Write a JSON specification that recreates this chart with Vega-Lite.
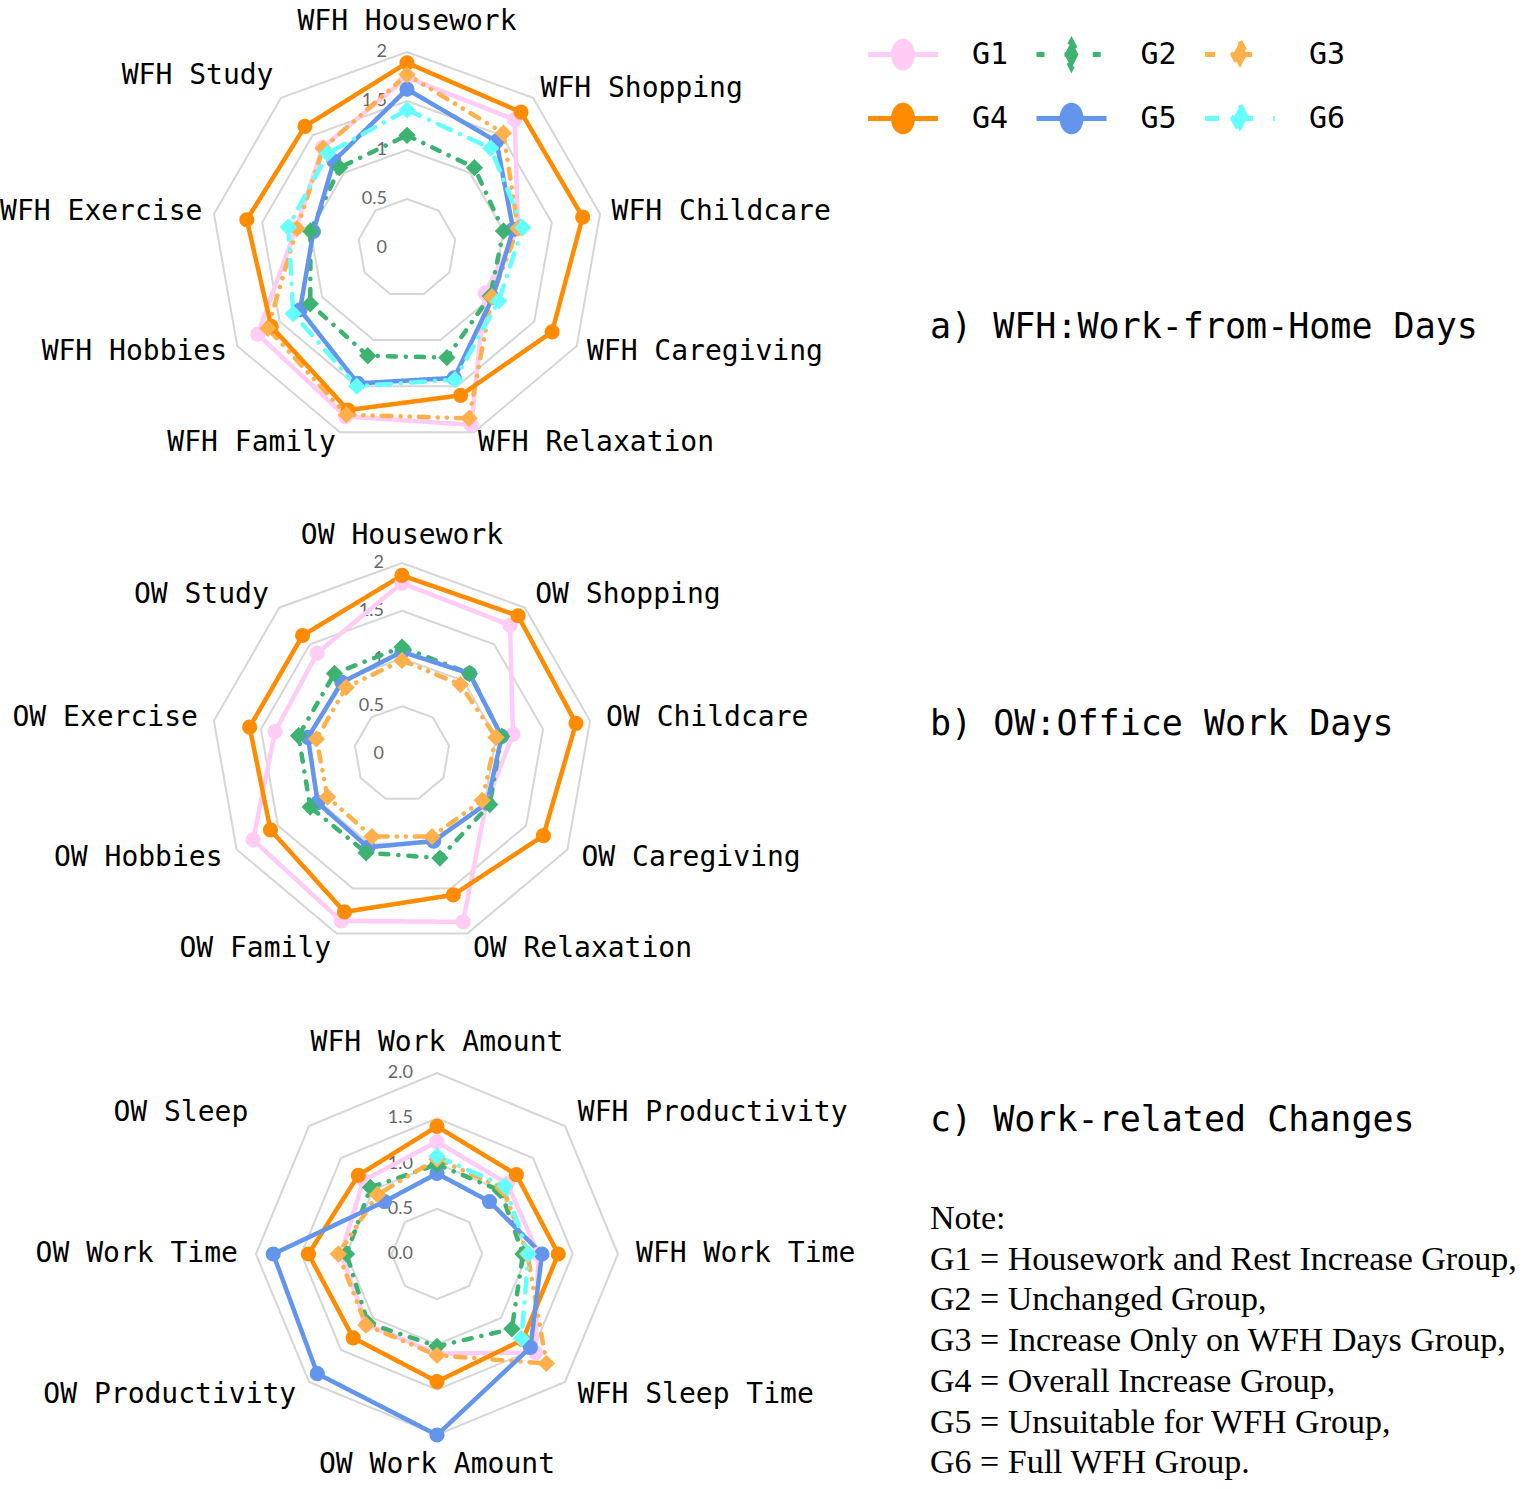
{
  "$schema": "https://vega.github.io/schema/vega-lite/v6.json",
  "background": "white",
  "padding": 0,
  "spacing": 0,
  "bounds": "flush",
  "config": {"view": {"stroke": null}},
  "datasets": {
    "a": [
      {"g":"G1","axis":"WFH Housework","v":1.74},{"g":"G1","axis":"WFH Shopping","v":1.71},{"g":"G1","axis":"WFH Childcare","v":1.15},{"g":"G1","axis":"WFH Caregiving","v":0.92},{"g":"G1","axis":"WFH Relaxation","v":1.92},{"g":"G1","axis":"WFH Family","v":1.83},{"g":"G1","axis":"WFH Hobbies","v":1.76},{"g":"G1","axis":"WFH Exercise","v":1.15},{"g":"G1","axis":"WFH Study","v":1.34},
      {"g":"G2","axis":"WFH Housework","v":1.15},{"g":"G2","axis":"WFH Shopping","v":1.07},{"g":"G2","axis":"WFH Childcare","v":1.0},{"g":"G2","axis":"WFH Caregiving","v":0.98},{"g":"G2","axis":"WFH Relaxation","v":1.19},{"g":"G2","axis":"WFH Family","v":1.17},{"g":"G2","axis":"WFH Hobbies","v":1.14},{"g":"G2","axis":"WFH Exercise","v":1.0},{"g":"G2","axis":"WFH Study","v":1.07},
      {"g":"G3","axis":"WFH Housework","v":1.77},{"g":"G3","axis":"WFH Shopping","v":1.53},{"g":"G3","axis":"WFH Childcare","v":1.15},{"g":"G3","axis":"WFH Caregiving","v":1.0},{"g":"G3","axis":"WFH Relaxation","v":1.85},{"g":"G3","axis":"WFH Family","v":1.81},{"g":"G3","axis":"WFH Hobbies","v":1.64},{"g":"G3","axis":"WFH Exercise","v":1.14},{"g":"G3","axis":"WFH Study","v":1.33},
      {"g":"G4","axis":"WFH Housework","v":1.89},{"g":"G4","axis":"WFH Shopping","v":1.81},{"g":"G4","axis":"WFH Childcare","v":1.82},{"g":"G4","axis":"WFH Caregiving","v":1.71},{"g":"G4","axis":"WFH Relaxation","v":1.6},{"g":"G4","axis":"WFH Family","v":1.76},{"g":"G4","axis":"WFH Hobbies","v":1.6},{"g":"G4","axis":"WFH Exercise","v":1.66},{"g":"G4","axis":"WFH Study","v":1.62},
      {"g":"G5","axis":"WFH Housework","v":1.62},{"g":"G5","axis":"WFH Shopping","v":1.42},{"g":"G5","axis":"WFH Childcare","v":1.1},{"g":"G5","axis":"WFH Caregiving","v":1.01},{"g":"G5","axis":"WFH Relaxation","v":1.41},{"g":"G5","axis":"WFH Family","v":1.47},{"g":"G5","axis":"WFH Hobbies","v":1.26},{"g":"G5","axis":"WFH Exercise","v":0.97},{"g":"G5","axis":"WFH Study","v":1.16},
      {"g":"G6","axis":"WFH Housework","v":1.41},{"g":"G6","axis":"WFH Shopping","v":1.33},{"g":"G6","axis":"WFH Childcare","v":1.2},{"g":"G6","axis":"WFH Caregiving","v":1.08},{"g":"G6","axis":"WFH Relaxation","v":1.43},{"g":"G6","axis":"WFH Family","v":1.5},{"g":"G6","axis":"WFH Hobbies","v":1.34},{"g":"G6","axis":"WFH Exercise","v":1.23},{"g":"G6","axis":"WFH Study","v":1.26}
    ],
    "b": [
      {"g":"G1","axis":"OW Housework","v":1.79},{"g":"G1","axis":"OW Shopping","v":1.76},{"g":"G1","axis":"OW Childcare","v":1.18},{"g":"G1","axis":"OW Caregiving","v":1.02},{"g":"G1","axis":"OW Relaxation","v":1.87},{"g":"G1","axis":"OW Family","v":1.86},{"g":"G1","axis":"OW Hobbies","v":1.8},{"g":"G1","axis":"OW Exercise","v":1.35},{"g":"G1","axis":"OW Study","v":1.38},
      {"g":"G2","axis":"OW Housework","v":1.12},{"g":"G2","axis":"OW Shopping","v":1.1},{"g":"G2","axis":"OW Childcare","v":1.06},{"g":"G2","axis":"OW Caregiving","v":1.06},{"g":"G2","axis":"OW Relaxation","v":1.16},{"g":"G2","axis":"OW Family","v":1.1},{"g":"G2","axis":"OW Hobbies","v":1.11},{"g":"G2","axis":"OW Exercise","v":1.1},{"g":"G2","axis":"OW Study","v":1.1},
      {"g":"G3","axis":"OW Housework","v":0.98},{"g":"G3","axis":"OW Shopping","v":0.95},{"g":"G3","axis":"OW Childcare","v":1.0},{"g":"G3","axis":"OW Caregiving","v":0.97},{"g":"G3","axis":"OW Relaxation","v":0.92},{"g":"G3","axis":"OW Family","v":0.92},{"g":"G3","axis":"OW Hobbies","v":0.9},{"g":"G3","axis":"OW Exercise","v":0.91},{"g":"G3","axis":"OW Study","v":0.91},
      {"g":"G4","axis":"OW Housework","v":1.87},{"g":"G4","axis":"OW Shopping","v":1.89},{"g":"G4","axis":"OW Childcare","v":1.85},{"g":"G4","axis":"OW Caregiving","v":1.71},{"g":"G4","axis":"OW Relaxation","v":1.57},{"g":"G4","axis":"OW Family","v":1.76},{"g":"G4","axis":"OW Hobbies","v":1.59},{"g":"G4","axis":"OW Exercise","v":1.62},{"g":"G4","axis":"OW Study","v":1.62},
      {"g":"G5","axis":"OW Housework","v":1.07},{"g":"G5","axis":"OW Shopping","v":1.1},{"g":"G5","axis":"OW Childcare","v":1.06},{"g":"G5","axis":"OW Caregiving","v":1.03},{"g":"G5","axis":"OW Relaxation","v":0.97},{"g":"G5","axis":"OW Family","v":1.04},{"g":"G5","axis":"OW Hobbies","v":1.02},{"g":"G5","axis":"OW Exercise","v":1.0},{"g":"G5","axis":"OW Study","v":0.98}
    ],
    "c": [
      {"g":"G1","axis":"WFH Work Amount","v":1.24},{"g":"G1","axis":"WFH Productivity","v":1.1},{"g":"G1","axis":"WFH Work Time","v":1.12},{"g":"G1","axis":"WFH Sleep Time","v":1.54},{"g":"G1","axis":"OW Work Amount","v":1.1},{"g":"G1","axis":"OW Productivity","v":1.1},{"g":"G1","axis":"OW Work Time","v":1.06},{"g":"G1","axis":"OW Sleep","v":1.15},
      {"g":"G2","axis":"WFH Work Amount","v":0.99},{"g":"G2","axis":"WFH Productivity","v":0.99},{"g":"G2","axis":"WFH Work Time","v":0.95},{"g":"G2","axis":"WFH Sleep Time","v":1.17},{"g":"G2","axis":"OW Work Amount","v":1.02},{"g":"G2","axis":"OW Productivity","v":1.08},{"g":"G2","axis":"OW Work Time","v":1.0},{"g":"G2","axis":"OW Sleep","v":1.04},
      {"g":"G3","axis":"WFH Work Amount","v":1.05},{"g":"G3","axis":"WFH Productivity","v":1.03},{"g":"G3","axis":"WFH Work Time","v":1.0},{"g":"G3","axis":"WFH Sleep Time","v":1.71},{"g":"G3","axis":"OW Work Amount","v":1.12},{"g":"G3","axis":"OW Productivity","v":1.11},{"g":"G3","axis":"OW Work Time","v":1.09},{"g":"G3","axis":"OW Sleep","v":0.93},
      {"g":"G4","axis":"WFH Work Amount","v":1.41},{"g":"G4","axis":"WFH Productivity","v":1.24},{"g":"G4","axis":"WFH Work Time","v":1.34},{"g":"G4","axis":"WFH Sleep Time","v":1.34},{"g":"G4","axis":"OW Work Amount","v":1.41},{"g":"G4","axis":"OW Productivity","v":1.31},{"g":"G4","axis":"OW Work Time","v":1.42},{"g":"G4","axis":"OW Sleep","v":1.23},
      {"g":"G5","axis":"WFH Work Amount","v":0.89},{"g":"G5","axis":"WFH Productivity","v":0.82},{"g":"G5","axis":"WFH Work Time","v":1.16},{"g":"G5","axis":"WFH Sleep Time","v":1.46},{"g":"G5","axis":"OW Work Amount","v":2.0},{"g":"G5","axis":"OW Productivity","v":1.87},{"g":"G5","axis":"OW Work Time","v":1.81},{"g":"G5","axis":"OW Sleep","v":0.82},
      {"g":"G6","axis":"WFH Work Amount","v":1.08},{"g":"G6","axis":"WFH Productivity","v":1.06},{"g":"G6","axis":"WFH Work Time","v":1.01},{"g":"G6","axis":"WFH Sleep Time","v":1.32}
    ]
  },
  "vconcat": [
    {
      "width": 1525,
      "height": 480,
      "title": {"text": "a) WFH:Work-from-Home Days", "orient": "bottom", "anchor": "start", "frame": "group", "offset": 0, "dx": 930, "dy": -170, "font": "DejaVu Sans Mono", "fontSize": 35, "fontWeight": "normal", "color": "black"},
      "resolve": {"legend": {"color": "independent", "stroke": "independent", "shape": "independent", "strokeDash": "independent"}},
      "encoding": {
        "x": {"field": "x", "type": "quantitative", "scale": {"domain": [-4.1531, 11.4082], "zero": false, "nice": false}, "axis": null},
        "y": {"field": "y", "type": "quantitative", "scale": {"domain": [-2.3673, 2.5306], "zero": false, "nice": false}, "axis": null}
      },
      "layer": [
        {
          "data": {"values": [{"lvl":0.5,"k":[0,1,2,3,4,5,6,7,8]},{"lvl":1,"k":[0,1,2,3,4,5,6,7,8]},{"lvl":1.5,"k":[0,1,2,3,4,5,6,7,8]},{"lvl":2,"k":[0,1,2,3,4,5,6,7,8]}]},
          "transform": [{"flatten": ["k"]},{"calculate": "datum.lvl * sin(datum.k * 2 * PI / 9)", "as": "x"},{"calculate": "datum.lvl * cos(datum.k * 2 * PI / 9)", "as": "y"}],
          "mark": {"type": "line", "interpolate": "linear-closed", "color": "#d6d6d6", "strokeWidth": 2},
          "encoding": {"detail": {"field": "lvl"}, "order": {"field": "k", "type": "quantitative"}}
        },
        {
          "data": {"values": [{"lvl":0},{"lvl":0.5},{"lvl":1},{"lvl":1.5},{"lvl":2}]},
          "transform": [{"calculate": "0", "as": "x"},{"calculate": "datum.lvl", "as": "y"}],
          "mark": {"type": "text", "align": "right", "baseline": "middle", "dx": -20, "font": "Lato", "fontSize": 18, "color": "#666666"},
          "encoding": {"text": {"field": "lvl", "type": "quantitative"}}
        },
        {
          "data": {"values": [{"axis":"WFH Housework"},{"axis":"WFH Shopping"},{"axis":"WFH Childcare"},{"axis":"WFH Caregiving"},{"axis":"WFH Relaxation"},{"axis":"WFH Family"},{"axis":"WFH Hobbies"},{"axis":"WFH Exercise"},{"axis":"WFH Study"}]},
          "transform": [{"window": [{"op": "row_number", "as": "n"}]},{"calculate": "(datum.n - 1) * 2 * PI / 9", "as": "t"},{"calculate": "sin(datum.t)", "as": "s"},{"calculate": "abs(sin(datum.t)) < 0.2 ? 2.31 : 2.12", "as": "r"},{"calculate": "datum.r * sin(datum.t)", "as": "x"},{"calculate": "datum.r * cos(datum.t) + (datum.n == 9 ? 0.13 : 0)", "as": "y"}],
          "mark": {"type": "text", "align": {"expr": "datum.s > 0.2 ? 'left' : (datum.s < -0.2 ? 'right' : 'center')"}, "baseline": "middle", "font": "DejaVu Sans Mono", "fontSize": 28, "color": "black"},
          "encoding": {"text": {"field": "axis"}}
        },
        {
          "data": {"name": "a"},
          "transform": [{"calculate": "indexof(['WFH Housework','WFH Shopping','WFH Childcare','WFH Caregiving','WFH Relaxation','WFH Family','WFH Hobbies','WFH Exercise','WFH Study'], datum.axis)", "as": "i"},{"calculate": "datum.v * sin(datum.i * 2 * PI / 9)", "as": "x"},{"calculate": "datum.v * cos(datum.i * 2 * PI / 9)", "as": "y"}],
          "mark": {"type": "line", "interpolate": "linear-closed", "strokeWidth": 4.5, "strokeCap": "round", "strokeJoin": "round"},
          "encoding": {
            "color": {"field": "g", "type": "nominal", "scale": {"domain": ["G1","G2","G3","G4","G5","G6"], "range": ["#FFCCF6","#3CB371","#FFB04A","#FF8C00","#6495ED","#66FFFF"]}, "legend": null},
            "strokeDash": {"field": "g", "type": "nominal", "scale": {"domain": ["G1","G2","G3","G4","G5","G6"], "range": [[1,0],[8,10,0.1,10],[10,9,0.1,9,0.1,9],[1,0],[1,0],[14,10,0.1,10]]}, "legend": null},
            "order": {"field": "i", "type": "quantitative"}
          }
        },
        {
          "data": {"name": "a"},
          "transform": [{"filter": "indexof(['G1','G4','G5'], datum.g) >= 0"},{"calculate": "indexof(['WFH Housework','WFH Shopping','WFH Childcare','WFH Caregiving','WFH Relaxation','WFH Family','WFH Hobbies','WFH Exercise','WFH Study'], datum.axis)", "as": "i"},{"calculate": "datum.v * sin(datum.i * 2 * PI / 9)", "as": "x"},{"calculate": "datum.v * cos(datum.i * 2 * PI / 9)", "as": "y"}],
          "mark": {"type": "point", "shape": "circle", "filled": true, "size": 230, "opacity": 1},
          "encoding": {"color": {"field": "g", "type": "nominal", "legend": null}}
        },
        {
          "data": {"name": "a"},
          "transform": [{"filter": "indexof(['G2','G3','G6'], datum.g) >= 0"},{"calculate": "indexof(['WFH Housework','WFH Shopping','WFH Childcare','WFH Caregiving','WFH Relaxation','WFH Family','WFH Hobbies','WFH Exercise','WFH Study'], datum.axis)", "as": "i"},{"calculate": "datum.v * sin(datum.i * 2 * PI / 9)", "as": "x"},{"calculate": "datum.v * cos(datum.i * 2 * PI / 9)", "as": "y"}],
          "mark": {"type": "point", "shape": "diamond", "filled": true, "size": 300, "opacity": 1},
          "encoding": {"color": {"field": "g", "type": "nominal", "legend": null}}
        },
        {
          "data": {"name": "a"},
          "transform": [{"calculate": "indexof(['WFH Housework','WFH Shopping','WFH Childcare','WFH Caregiving','WFH Relaxation','WFH Family','WFH Hobbies','WFH Exercise','WFH Study'], datum.axis)", "as": "i"},{"calculate": "datum.v * sin(datum.i * 2 * PI / 9)", "as": "x"},{"calculate": "datum.v * cos(datum.i * 2 * PI / 9)", "as": "y"}],
          "mark": {"type": "point", "filled": true, "opacity": 0, "strokeWidth": 5},
          "encoding": {
            "color": {"field": "g", "type": "nominal", "legend": {"orient": "none", "legendX": 865.5, "legendY": 17, "columns": 3, "direction": "horizontal", "title": null, "symbolSize": 4900, "symbolStrokeWidth": 5, "symbolOpacity": 1, "labelFont": "DejaVu Sans Mono", "labelFontSize": 30, "labelColor": "black", "labelOffset": 31.5, "columnPadding": 17.5, "rowPadding": 3, "padding": 0}},
            "stroke": {"field": "g", "type": "nominal", "scale": {"domain": ["G1","G2","G3","G4","G5","G6"], "range": ["#FFCCF6","#3CB371","#FFB04A","#FF8C00","#6495ED","#66FFFF"]}, "legend": {"orient": "none", "legendX": 865.5, "legendY": 17, "columns": 3, "direction": "horizontal", "title": null, "symbolSize": 4900, "symbolStrokeWidth": 5, "symbolOpacity": 1, "labelFont": "DejaVu Sans Mono", "labelFontSize": 30, "labelColor": "black", "labelOffset": 31.5, "columnPadding": 17.5, "rowPadding": 3, "padding": 0}},
            "shape": {"field": "g", "type": "nominal", "scale": {"domain": ["G1","G2","G3","G4","G5","G6"], "range": ["M-1,0L1,0M-0.27,0A0.27,0.38 0 1,0 0.27,0A0.27,0.38 0 1,0 -0.27,0Z","M-1,0L1,0M0,-0.38L0.2,0L0,0.38L-0.2,0Z","M-1,0L1,0M0,-0.38L0.2,0L0,0.38L-0.2,0Z","M-1,0L1,0M-0.27,0A0.27,0.38 0 1,0 0.27,0A0.27,0.38 0 1,0 -0.27,0Z","M-1,0L1,0M-0.27,0A0.27,0.38 0 1,0 0.27,0A0.27,0.38 0 1,0 -0.27,0Z","M-1,0L1,0M0,-0.38L0.2,0L0,0.38L-0.2,0Z"]}, "legend": {"orient": "none", "legendX": 865.5, "legendY": 17, "columns": 3, "direction": "horizontal", "title": null, "symbolSize": 4900, "symbolStrokeWidth": 5, "symbolOpacity": 1, "labelFont": "DejaVu Sans Mono", "labelFontSize": 30, "labelColor": "black", "labelOffset": 31.5, "columnPadding": 17.5, "rowPadding": 3, "padding": 0}},
            "strokeDash": {"field": "g", "type": "nominal", "legend": {"orient": "none", "legendX": 865.5, "legendY": 17, "columns": 3, "direction": "horizontal", "title": null, "symbolSize": 4900, "symbolStrokeWidth": 5, "symbolOpacity": 1, "labelFont": "DejaVu Sans Mono", "labelFontSize": 30, "labelColor": "black", "labelOffset": 31.5, "columnPadding": 17.5, "rowPadding": 3, "padding": 0}}
          }
        }
      ]
    },
    {
      "width": 1525,
      "height": 505,
      "title": {"text": "b) OW:Office Work Days", "orient": "bottom", "anchor": "start", "frame": "group", "offset": 0, "dx": 930, "dy": -278, "font": "DejaVu Sans Mono", "fontSize": 35, "fontWeight": "normal", "color": "black"},
      "encoding": {
        "x": {"field": "x", "type": "quantitative", "scale": {"domain": [-4.2094, 11.7592], "zero": false, "nice": false}, "axis": null},
        "y": {"field": "y", "type": "quantitative", "scale": {"domain": [-2.4188, 2.8691], "zero": false, "nice": false}, "axis": null}
      },
      "layer": [
        {
          "data": {"values": [{"lvl":0.5,"k":[0,1,2,3,4,5,6,7,8]},{"lvl":1,"k":[0,1,2,3,4,5,6,7,8]},{"lvl":1.5,"k":[0,1,2,3,4,5,6,7,8]},{"lvl":2,"k":[0,1,2,3,4,5,6,7,8]}]},
          "transform": [{"flatten": ["k"]},{"calculate": "datum.lvl * sin(datum.k * 2 * PI / 9)", "as": "x"},{"calculate": "datum.lvl * cos(datum.k * 2 * PI / 9)", "as": "y"}],
          "mark": {"type": "line", "interpolate": "linear-closed", "color": "#d6d6d6", "strokeWidth": 2},
          "encoding": {"detail": {"field": "lvl"}, "order": {"field": "k", "type": "quantitative"}}
        },
        {
          "data": {"values": [{"lvl":0},{"lvl":0.5},{"lvl":1},{"lvl":1.5},{"lvl":2}]},
          "transform": [{"calculate": "0", "as": "x"},{"calculate": "datum.lvl", "as": "y"}],
          "mark": {"type": "text", "align": "right", "baseline": "middle", "dx": -18, "font": "Lato", "fontSize": 18, "color": "#666666"},
          "encoding": {"text": {"field": "lvl", "type": "quantitative"}}
        },
        {
          "data": {"values": [{"axis":"OW Housework"},{"axis":"OW Shopping"},{"axis":"OW Childcare"},{"axis":"OW Caregiving"},{"axis":"OW Relaxation"},{"axis":"OW Family"},{"axis":"OW Hobbies"},{"axis":"OW Exercise"},{"axis":"OW Study"}]},
          "transform": [{"window": [{"op": "row_number", "as": "n"}]},{"calculate": "(datum.n - 1) * 2 * PI / 9", "as": "t"},{"calculate": "sin(datum.t)", "as": "s"},{"calculate": "abs(sin(datum.t)) < 0.2 ? 2.28 : 2.17", "as": "r"},{"calculate": "datum.r * sin(datum.t)", "as": "x"},{"calculate": "datum.r * cos(datum.t)", "as": "y"}],
          "mark": {"type": "text", "align": {"expr": "datum.s > 0.2 ? 'left' : (datum.s < -0.2 ? 'right' : 'center')"}, "baseline": "middle", "font": "DejaVu Sans Mono", "fontSize": 28, "color": "black"},
          "encoding": {"text": {"field": "axis"}}
        },
        {
          "data": {"name": "b"},
          "transform": [{"calculate": "indexof(['OW Housework','OW Shopping','OW Childcare','OW Caregiving','OW Relaxation','OW Family','OW Hobbies','OW Exercise','OW Study'], datum.axis)", "as": "i"},{"calculate": "datum.v * sin(datum.i * 2 * PI / 9)", "as": "x"},{"calculate": "datum.v * cos(datum.i * 2 * PI / 9)", "as": "y"}],
          "mark": {"type": "line", "interpolate": "linear-closed", "strokeWidth": 4.5, "strokeCap": "round", "strokeJoin": "round"},
          "encoding": {
            "color": {"field": "g", "type": "nominal", "legend": null},
            "strokeDash": {"field": "g", "type": "nominal", "legend": null},
            "order": {"field": "i", "type": "quantitative"}
          }
        },
        {
          "data": {"name": "b"},
          "transform": [{"filter": "indexof(['G1','G4','G5'], datum.g) >= 0"},{"calculate": "indexof(['OW Housework','OW Shopping','OW Childcare','OW Caregiving','OW Relaxation','OW Family','OW Hobbies','OW Exercise','OW Study'], datum.axis)", "as": "i"},{"calculate": "datum.v * sin(datum.i * 2 * PI / 9)", "as": "x"},{"calculate": "datum.v * cos(datum.i * 2 * PI / 9)", "as": "y"}],
          "mark": {"type": "point", "shape": "circle", "filled": true, "size": 230, "opacity": 1},
          "encoding": {"color": {"field": "g", "type": "nominal", "legend": null}}
        },
        {
          "data": {"name": "b"},
          "transform": [{"filter": "indexof(['G2','G3','G6'], datum.g) >= 0"},{"calculate": "indexof(['OW Housework','OW Shopping','OW Childcare','OW Caregiving','OW Relaxation','OW Family','OW Hobbies','OW Exercise','OW Study'], datum.axis)", "as": "i"},{"calculate": "datum.v * sin(datum.i * 2 * PI / 9)", "as": "x"},{"calculate": "datum.v * cos(datum.i * 2 * PI / 9)", "as": "y"}],
          "mark": {"type": "point", "shape": "diamond", "filled": true, "size": 300, "opacity": 1},
          "encoding": {"color": {"field": "g", "type": "nominal", "legend": null}}
        }
      ]
    },
    {
      "width": 1525,
      "height": 504,
      "title": {"text": "c) Work-related Changes", "subtitle": ["Note:", "G1 = Housework and Rest Increase Group,", "G2 = Unchanged Group,", "G3 = Increase Only on WFH Days Group,", "G4 = Overall Increase Group,", "G5 = Unsuitable for WFH Group,", "G6 = Full WFH Group."], "orient": "bottom", "anchor": "start", "frame": "group", "offset": 0, "dx": 930, "dy": -386, "font": "DejaVu Sans Mono", "fontSize": 35, "fontWeight": "normal", "color": "black", "subtitleFont": "Liberation Serif", "subtitleFontSize": 34, "subtitleColor": "black", "subtitleLineHeight": 40.7, "subtitlePadding": 64},
      "encoding": {
        "x": {"field": "x", "type": "quantitative", "scale": {"domain": [-4.8287, 12.0221], "zero": false, "nice": false}, "axis": null},
        "y": {"field": "y", "type": "quantitative", "scale": {"domain": [-2.5967, 2.9724], "zero": false, "nice": false}, "axis": null}
      },
      "layer": [
        {
          "data": {"values": [{"lvl":0.5,"k":[0,1,2,3,4,5,6,7]},{"lvl":1,"k":[0,1,2,3,4,5,6,7]},{"lvl":1.5,"k":[0,1,2,3,4,5,6,7]},{"lvl":2,"k":[0,1,2,3,4,5,6,7]}]},
          "transform": [{"flatten": ["k"]},{"calculate": "datum.lvl * sin(datum.k * 2 * PI / 8)", "as": "x"},{"calculate": "datum.lvl * cos(datum.k * 2 * PI / 8)", "as": "y"}],
          "mark": {"type": "line", "interpolate": "linear-closed", "color": "#d6d6d6", "strokeWidth": 2},
          "encoding": {"detail": {"field": "lvl"}, "order": {"field": "k", "type": "quantitative"}}
        },
        {
          "data": {"values": [{"lvl":0},{"lvl":0.5},{"lvl":1},{"lvl":1.5},{"lvl":2}]},
          "transform": [{"calculate": "0", "as": "x"},{"calculate": "datum.lvl", "as": "y"}],
          "mark": {"type": "text", "align": "right", "baseline": "middle", "dx": -24, "font": "Lato", "fontSize": 18, "color": "#666666"},
          "encoding": {"text": {"field": "lvl", "type": "quantitative", "format": ".1f"}}
        },
        {
          "data": {"values": [{"axis":"WFH Work Amount"},{"axis":"WFH Productivity"},{"axis":"WFH Work Time"},{"axis":"WFH Sleep Time"},{"axis":"OW Work Amount"},{"axis":"OW Productivity"},{"axis":"OW Work Time"},{"axis":"OW Sleep"}]},
          "transform": [{"window": [{"op": "row_number", "as": "n"}]},{"calculate": "(datum.n - 1) * 2 * PI / 8", "as": "t"},{"calculate": "sin(datum.t)", "as": "s"},{"calculate": "abs(sin(datum.t)) < 0.2 ? 2.33 : 2.2", "as": "r"},{"calculate": "datum.r * sin(datum.t) - (datum.n == 8 ? 0.53 : 0)", "as": "x"},{"calculate": "datum.r * cos(datum.t)", "as": "y"}],
          "mark": {"type": "text", "align": {"expr": "datum.s > 0.2 ? 'left' : (datum.s < -0.2 ? 'right' : 'center')"}, "baseline": "middle", "font": "DejaVu Sans Mono", "fontSize": 28, "color": "black"},
          "encoding": {"text": {"field": "axis"}}
        },
        {
          "data": {"name": "c"},
          "transform": [{"filter": "datum.g != 'G6'"},{"calculate": "indexof(['WFH Work Amount','WFH Productivity','WFH Work Time','WFH Sleep Time','OW Work Amount','OW Productivity','OW Work Time','OW Sleep'], datum.axis)", "as": "i"},{"calculate": "datum.v * sin(datum.i * 2 * PI / 8)", "as": "x"},{"calculate": "datum.v * cos(datum.i * 2 * PI / 8)", "as": "y"}],
          "mark": {"type": "line", "interpolate": "linear-closed", "strokeWidth": 4.5, "strokeCap": "round", "strokeJoin": "round"},
          "encoding": {
            "color": {"field": "g", "type": "nominal", "legend": null},
            "strokeDash": {"field": "g", "type": "nominal", "legend": null},
            "order": {"field": "i", "type": "quantitative"}
          }
        },
        {
          "data": {"name": "c"},
          "transform": [{"filter": "datum.g == 'G6'"},{"calculate": "indexof(['WFH Work Amount','WFH Productivity','WFH Work Time','WFH Sleep Time','OW Work Amount','OW Productivity','OW Work Time','OW Sleep'], datum.axis)", "as": "i"},{"calculate": "datum.v * sin(datum.i * 2 * PI / 8)", "as": "x"},{"calculate": "datum.v * cos(datum.i * 2 * PI / 8)", "as": "y"}],
          "mark": {"type": "line", "interpolate": "linear", "strokeWidth": 4.5, "strokeCap": "round", "strokeJoin": "round"},
          "encoding": {
            "color": {"field": "g", "type": "nominal", "legend": null},
            "strokeDash": {"field": "g", "type": "nominal", "legend": null},
            "order": {"field": "i", "type": "quantitative"}
          }
        },
        {
          "data": {"name": "c"},
          "transform": [{"filter": "indexof(['G1','G4','G5'], datum.g) >= 0"},{"calculate": "indexof(['WFH Work Amount','WFH Productivity','WFH Work Time','WFH Sleep Time','OW Work Amount','OW Productivity','OW Work Time','OW Sleep'], datum.axis)", "as": "i"},{"calculate": "datum.v * sin(datum.i * 2 * PI / 8)", "as": "x"},{"calculate": "datum.v * cos(datum.i * 2 * PI / 8)", "as": "y"}],
          "mark": {"type": "point", "shape": "circle", "filled": true, "size": 230, "opacity": 1},
          "encoding": {"color": {"field": "g", "type": "nominal", "legend": null}}
        },
        {
          "data": {"name": "c"},
          "transform": [{"filter": "indexof(['G2','G3','G6'], datum.g) >= 0"},{"calculate": "indexof(['WFH Work Amount','WFH Productivity','WFH Work Time','WFH Sleep Time','OW Work Amount','OW Productivity','OW Work Time','OW Sleep'], datum.axis)", "as": "i"},{"calculate": "datum.v * sin(datum.i * 2 * PI / 8)", "as": "x"},{"calculate": "datum.v * cos(datum.i * 2 * PI / 8)", "as": "y"}],
          "mark": {"type": "point", "shape": "diamond", "filled": true, "size": 300, "opacity": 1},
          "encoding": {"color": {"field": "g", "type": "nominal", "legend": null}}
        }
      ]
    }
  ]
}
